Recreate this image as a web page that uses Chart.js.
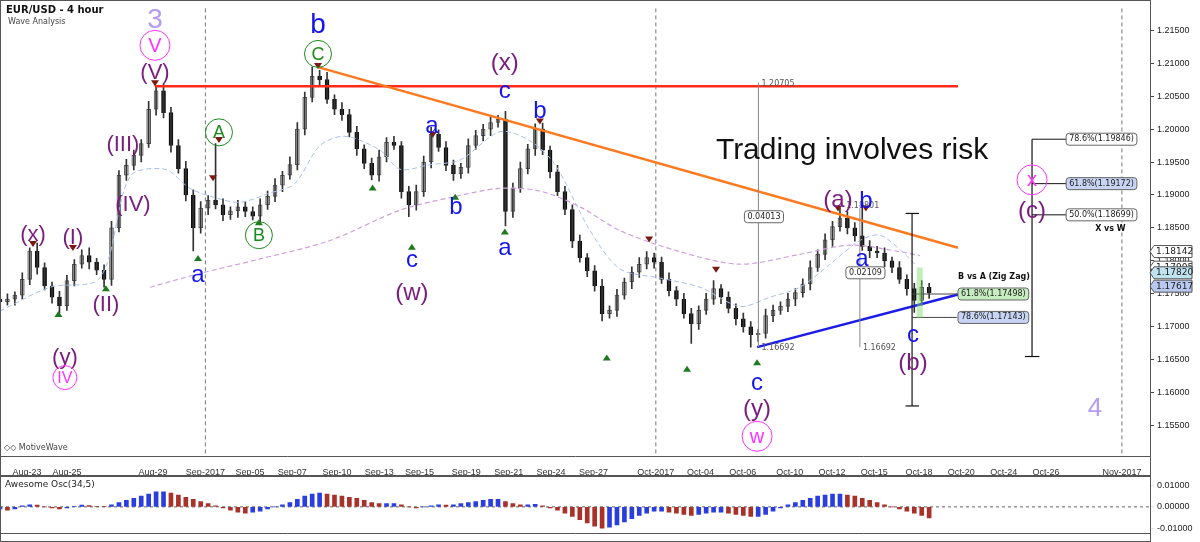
<!DOCTYPE html>
<html>
<head>
<meta charset="utf-8">
<script src="https://cdn.jsdelivr.net/npm/chart.js@4"></script>
<style>
  body { margin: 0; background: #fff; font-family: "DejaVu Sans", Arial, sans-serif; }
  #wrap { position: relative; width: 1200px; height: 542px; }
  canvas { position: absolute; left: 0; }
</style>
</head>
<body>
<div id="wrap">
  <canvas id="main" width="1200" height="476" style="top:0"></canvas>
  <canvas id="osc" width="1200" height="66" style="top:476px"></canvas>
</div>
<script>
// 4h-ish candles, 3 per trading day, x = trading days from Aug-23
const xStart = -1.21;
const closes = [11738,11742,11748,11772,11815,11790,11762,11745,11732,11770,
  11795,11808,11798,11786,11772,11850,11930,11945,11960,11978,
  12030,12058,12025,11975,11940,11900,11850,11880,11892,11885,
  11870,11876,11882,11875,11868,11885,11898,11915,11930,11946,
  12000,12048,12080,12075,12045,12030,12022,11995,11970,11948,
  11930,11958,11980,11975,11905,11885,11905,11950,11992,11972,
  11945,11932,11942,11975,11990,12000,12010,12015,11875,11910,
  11940,11970,12000,11968,11935,11905,11878,11830,11805,11785,
  11762,11720,11725,11748,11768,11783,11795,11805,11798,11772,
  11755,11742,11720,11705,11725,11742,11758,11745,11728,11712,
  11700,11688,11690,11717,11725,11731,11742,11752,11765,11790,
  11810,11832,11852,11865,11850,11838,11822,11815,11812,11800,
  11790,11772,11758,11740,11760,11752];
const wickUp = [6,8,5,10,5,12,7,6,9,8, 7,9,12,6,8,10,7,9,8,6,
  12,7,10,8,9,11,8,10,7,86, 9,6,10,8,7,9,8,10,6,12,
  10,8,14,9,11,7,10,8,9,6, 8,10,7,9,6,8,10,9,11,7,
  9,8,6,10,8,7,9,6,12,8, 10,7,8,9,6,10,8,7,9,6,
  8,10,7,9,6,8,10,9,7,8, 10,6,9,8,7,9,12,6,8,7,
  9,8,6,10,8,7,9,6,8,10, 7,9,8,15,10,8,55,9,7,8, 6,9,7,8,10,6];
const wickDn = [7,5,9,6,8,10,6,9,11,7, 8,6,10,7,12,9,6,8,7,10,
  6,9,8,10,7,9,35,8,10,6, 9,7,10,8,6,9,7,8,10,6,
  8,9,7,10,6,8,9,7,10,8, 7,9,8,6,10,18,8,7,9,6,
  8,10,7,9,6,8,10,7,22,9, 6,8,10,7,9,6,8,10,7,9,
  8,11,7,9,6,10,8,7,9,6, 8,10,7,30,9,6,8,10,7,9,
  8,19,10,7,9,6,8,10,7,9, 6,8,10,7,9,8,6,10,7,9, 8,6,10,18,7,9];
// Awesome oscillator, in 1e-3
const aoValues = [-1,-1.5,-1,0.5,1,0.8,0,-0.5,-1,-0.5,0.3,0.8,0.6,0.3,0.2,
  1,2,3,4,5,6,7,7, 6.5,5.5,4.5,3.5,2.5,1.5,
  0.5,-0.5,-1.5,-2.5,-3,-2.5,-2,-1, 0,1,2,3.5,5,6,6.5,6,5.5,
  5,4.5,4,3,2,1.5,1.5,1.5, 1,0,-0.5,0,0.5,1,0.8, 1,1.5,2,2.5,3,3.5,3.5,
  2.5,1.5,1,1,1.2, 0.5,-0.5,-1.5,-3,-4.5,-6,-7.5,-9,-10,
  -9.5,-8.5,-7,-5.5,-4,-3,-2, -2,-2.5,-3,-3.5,-4,-3.5,-3,
  -2.5,-2.5,-3,-3.5,-4,-4.5,-4.5, -3.5,-2,-0.5,1,2,3,4,5,5.5,6,
  6,5.5,5,4,3,2, 1,0,-1,-2,-3,-4,-5.2];

const tickLabels = ["Aug-23","Aug-25","Aug-29","Sep-2017","Sep-05","Sep-07","Sep-10","Sep-13","Sep-15","Sep-19","Sep-21","Sep-24","Sep-27","Oct-2017","Oct-04","Oct-06","Oct-10","Oct-12","Oct-15","Oct-18","Oct-20","Oct-24","Oct-26","Nov-2017"];
const tickPos = [0,1.79,5.65,8.0,10.0,11.9,13.9,15.8,17.6,19.7,21.6,23.5,25.4,28.2,30.2,32.1,34.2,36.1,38.0,40.0,41.9,43.8,45.7,49.1];
const priceTicks = [1.155,1.16,1.165,1.17,1.175,1.18,1.185,1.19,1.195,1.2,1.205,1.21,1.215];

const maFast = [[-1.21,1.1724],[1.03,1.1760],[3.27,1.1774],[4.62,1.1928],[6.19,1.1939],[7.31,1.1910],[8.43,1.1896],[9.55,1.1889],[10.9,1.1903],[12.0,1.1917],[13.14,1.1975],[14.26,1.1989],[15.83,1.1968],[16.73,1.1939],[18.07,1.1946],[19.42,1.1953],[21.21,1.1996],[22.56,1.1982],[23.68,1.1946],[25.25,1.1846],[26.59,1.1788],[28.39,1.1774],[30.18,1.1760],[31.97,1.1731],[33.32,1.1745],[34.66,1.1760],[36.01,1.1795],[37.35,1.1831],[38.25,1.1839],[39.15,1.1817],[39.82,1.1795]];
const maSlow = [[5.52,1.1760],[7.76,1.1781],[10.45,1.1803],[13.59,1.1831],[16.73,1.1877],[18.97,1.1896],[21.21,1.1910],[23.0,1.1906],[24.8,1.1882],[26.59,1.1846],[29.28,1.1814],[31.97,1.1795],[34.66,1.1810],[36.91,1.1824],[39.15,1.1814],[40.04,1.1808]];

// wave labels: text, x, price, color, size, circled
const PUR = "#7a1b7e", BLU = "#1414f0", GRN = "#1b8a1b", MAG = "#ff33ff", LAV = "#b59cf2";
const waveLabels = [
  ["3",5.74,1.2166,LAV,28,false],["V",5.74,1.2127,MAG,20,true],["(V)",5.74,1.2087,PUR,22,false],
  ["(III)",4.30,1.1978,PUR,22,false],["(IV)",4.75,1.1886,PUR,22,false],["(x)",0.27,1.1841,PUR,22,false],
  ["(I)",2.06,1.1837,PUR,22,false],["(II)",3.54,1.1734,PUR,22,false],["(y)",1.70,1.1655,PUR,22,false],
  ["IV",1.70,1.1623,MAG,16,true],["A",8.61,1.1995,GRN,18,true],["B",10.40,1.1839,GRN,18,true],
  ["a",7.67,1.1780,BLU,24,false],["b",13.05,1.2159,BLU,28,false],["C",13.05,1.2114,GRN,18,true],
  ["a",18.16,1.2006,BLU,24,false],["b",19.24,1.1882,BLU,24,false],["c",17.26,1.1803,BLU,24,false],
  ["(w)",17.26,1.1752,PUR,24,false],["(x)",21.43,1.2101,PUR,24,false],["c",21.43,1.2058,BLU,24,false],
  ["b",23.0,1.2028,BLU,24,false],["a",21.43,1.1821,BLU,24,false],["c",32.74,1.1616,BLU,24,false],
  ["(y)",32.74,1.1577,PUR,24,false],["w",32.74,1.1534,MAG,20,true],["(a)",36.37,1.1893,PUR,24,false],
  ["b",37.62,1.1892,BLU,24,false],["a",37.44,1.1804,BLU,24,false],["c",39.73,1.1688,BLU,24,false],
  ["(b)",39.73,1.1646,PUR,24,false],["x",45.07,1.1923,MAG,20,true],["(c)",45.07,1.1877,PUR,24,false],
  ["4",47.89,1.1577,LAV,26,false]
];
const topMarks = [[0.27,1.1820],[2.06,1.1814],[5.74,1.2064],[8.34,1.1920],[8.61,1.1978],[13.05,1.2090],[18.2,1.1986],[23.0,1.2006],[27.9,1.1827],[30.9,1.1781],[36.37,1.1874],[37.62,1.1874]];
const lowMarks = [[1.41,1.1721],[3.54,1.1760],[7.67,1.1806],[10.4,1.1860],[15.5,1.1913],[17.26,1.1823],[19.2,1.1899],[21.43,1.1846],[26.0,1.1655],[29.6,1.1638],[32.74,1.1648]];
const priceTags = [[1.18142,"#fff"],[1.17905,"#fff"],[1.17820,"#bfe4f0"],[1.17617,"#b8c8f0"]];

const candles = closes.map((c, i) => {
  const o = i ? closes[i - 1] : c + 4;
  return { x: xStart + i / 3, o: o / 1e4, c: c / 1e4,
    h: (Math.max(o, c) + wickUp[i]) / 1e4, l: (Math.min(o, c) - wickDn[i]) / 1e4 };
});
const xMin = -1.21, xMax = 50.36;

const xAxis = (showLabels) => ({
  type: "linear", min: xMin, max: xMax, offset: false,
  afterBuildTicks: (s) => { s.ticks = tickPos.map((v) => ({ value: v })); },
  afterFit: (s) => { s.height = showLabels ? 20 : 0; },
  ticks: { display: showLabels, autoSkip: false, maxRotation: 0, font: { size: 9 }, color: "#333",
    callback: (v) => tickLabels[tickPos.indexOf(v)] },
  grid: { display: false }, border: { color: "#555" }
});

const overlay = {
  id: "overlay",
  beforeDatasetsDraw(chart) {
    const { ctx, chartArea: a, scales: { x } } = chart;
    ctx.save();
    ctx.strokeStyle = "#777"; ctx.setLineDash([4, 3]); ctx.lineWidth = 1;
    ["Sep-2017", "Oct-2017", "Nov-2017"].forEach((t) => {
      const px = x.getPixelForValue(tickPos[tickLabels.indexOf(t)]);
      ctx.beginPath(); ctx.moveTo(px, a.top); ctx.lineTo(px, a.bottom); ctx.stroke();
    });
    ctx.restore();
  },
  afterDatasetsDraw(chart) {
    const { ctx, chartArea: a, scales: { x, y } } = chart;
    const X = (v) => x.getPixelForValue(v), Y = (v) => y.getPixelForValue(v);
    const line = (x1, y1, x2, y2, col, w) => {
      ctx.strokeStyle = col; ctx.lineWidth = w; ctx.beginPath();
      ctx.moveTo(X(x1), Y(y1)); ctx.lineTo(X(x2), Y(y2)); ctx.stroke();
    };
    const box = (s, px, py, fill) => {
      ctx.font = "8px DejaVu Sans"; const w = ctx.measureText(s).width + 6;
      ctx.fillStyle = fill; ctx.strokeStyle = "#666"; ctx.lineWidth = 1;
      ctx.beginPath(); ctx.roundRect(px, py - 6, w, 12, 3); ctx.fill(); ctx.stroke();
      ctx.fillStyle = "#222"; ctx.textAlign = "left"; ctx.textBaseline = "middle";
      ctx.fillText(s, px + 3, py);
    };
    ctx.save();
    // trend lines
    line(5.74, 1.2065, 41.75, 1.2065, "#ff2a1a", 2.5);
    line(13.05, 1.2094, 41.75, 1.1820, "#ff7a1f", 2.5);
    line(32.74, 1.16692, 41.75, 1.1749, "#1c1ce6", 2.5);
    // measurements
    line(32.8, 1.20705, 32.8, 1.16692, "#888", 1);
    line(37.35, 1.18801, 37.35, 1.16692, "#888", 1);
    line(39.69, 1.1872, 39.69, 1.1580, "#111", 1.2);
    line(39.4, 1.1872, 40.0, 1.1872, "#111", 1.2);
    line(39.4, 1.1580, 40.0, 1.1580, "#111", 1.2);
    line(45.07, 1.19846, 45.07, 1.1655, "#111", 1.2);
    line(44.75, 1.1655, 45.4, 1.1655, "#111", 1.2);
    [1.19846, 1.19172, 1.18699].forEach((p) => line(45.07, p, 46.6, p, "#111", 1));
    line(39.69, 1.17498, 41.7, 1.17498, "#444", 1);
    line(39.69, 1.17143, 41.7, 1.17143, "#444", 1);
    box("0.04013", X(32.8) - 14, Y(1.1867), "#fff");
    box("0.02109", X(37.35) - 14, Y(1.1782), "#fff");
    ctx.font = "8px DejaVu Sans"; ctx.fillStyle = "#555"; ctx.textAlign = "left";
    ctx.fillText("1.20705", X(32.8) + 3, Y(1.2068));
    ctx.fillText("1.16692", X(32.8) + 3, Y(1.1668));
    ctx.fillText("1.16692", X(37.35) + 3, Y(1.1668));
    ctx.fillText("1.18801", X(36.6) + 3, Y(1.1883));
    box("61.8%(1.17498)", X(41.75), Y(1.17498), "#c6ecc0");
    box("78.6%(1.17143)", X(41.75), Y(1.17143), "#c8d4f4");
    box("78.6%(1.19846)", X(46.6), Y(1.19846), "#fff");
    box("61.8%(1.19172)", X(46.6), Y(1.19172), "#c8d4f4");
    box("50.0%(1.18699)", X(46.6), Y(1.18699), "#fff");
    ctx.font = "bold 8px DejaVu Sans"; ctx.fillStyle = "#111"; ctx.textBaseline = "middle";
    ctx.fillText("B vs A (Zig Zag)", X(41.75), Y(1.1775));
    ctx.fillText("X vs W", X(47.9), Y(1.1848));
    // green box at last candles
    ctx.fillStyle = "rgba(120,220,100,0.45)";
    ctx.fillRect(X(39.9), Y(1.1790), 6, Y(1.1714) - Y(1.1790));
    // swing markers
    const tri = (xv, pv, up) => {
      const px = X(xv), py = Y(pv);
      ctx.fillStyle = up ? "#1f7a1f" : "#7a1a12"; ctx.beginPath();
      if (up) { ctx.moveTo(px - 4, py + 4); ctx.lineTo(px + 4, py + 4); ctx.lineTo(px, py - 2); }
      else { ctx.moveTo(px - 4, py - 4); ctx.lineTo(px + 4, py - 4); ctx.lineTo(px, py + 2); }
      ctx.fill();
    };
    topMarks.forEach((m) => tri(m[0], m[1] + 0.0004, false));
    lowMarks.forEach((m) => tri(m[0], m[1], true));
    // wave labels
    ctx.textAlign = "center"; ctx.textBaseline = "middle";
    waveLabels.forEach(([s, xv, pv, col, size, circ]) => {
      const px = X(xv), py = Y(pv);
      ctx.font = size + "px 'Liberation Sans', Arial, sans-serif"; ctx.fillStyle = col;
      ctx.fillText(s, px, py + 1);
      if (circ) {
        ctx.strokeStyle = col; ctx.lineWidth = 1; ctx.beginPath();
        ctx.arc(px, py, size * 0.75, 0, Math.PI * 2); ctx.stroke();
      }
    });
    ctx.font = "30px 'Liberation Sans', Arial, sans-serif"; ctx.fillStyle = "#111";
    ctx.fillText("Trading involves risk", X(37.0), Y(1.1967));
    ctx.textAlign = "left";
    ctx.font = "bold 10px DejaVu Sans"; ctx.fillText("EUR/USD - 4 hour", a.left + 6, 10);
    ctx.font = "8px DejaVu Sans"; ctx.fillStyle = "#444"; ctx.fillText("Wave Analysis", a.left + 8, 22);
    ctx.fillText("◇◇ MotiveWave", a.left + 4, a.bottom - 8);
    ctx.restore();
  },
  afterDraw(chart) {
    const { ctx, chartArea: a, scales: { y } } = chart;
    ctx.save();
    ctx.strokeStyle = "#555"; ctx.lineWidth = 1; ctx.strokeRect(0.5, 0.5, a.right, chart.height - 1);
    ctx.font = "9px DejaVu Sans"; ctx.textBaseline = "middle";
    priceTags.forEach(([p, fill]) => {
      const py = y.getPixelForValue(p), px = a.right + 4;
      ctx.fillStyle = fill; ctx.strokeStyle = "#555";
      ctx.beginPath(); ctx.moveTo(px - 4, py); ctx.lineTo(px, py - 6); ctx.lineTo(px + 38, py - 6);
      ctx.lineTo(px + 38, py + 6); ctx.lineTo(px, py + 6); ctx.closePath(); ctx.fill(); ctx.stroke();
      ctx.fillStyle = "#222"; ctx.fillText(p.toFixed(5), px + 2, py);
    });
    ctx.restore();
  }
};

new Chart(document.getElementById("main"), {
  type: "bar",
  data: {
    datasets: [
      { type: "line", data: maFast.map(([x, y]) => ({ x, y })), borderColor: "#a8bff0", borderWidth: 1, borderDash: [5, 3], pointRadius: 0, tension: 0.3 },
      { type: "line", data: maSlow.map(([x, y]) => ({ x, y })), borderColor: "#d2a0dc", borderWidth: 1.2, borderDash: [5, 3], pointRadius: 0, tension: 0.3 },
      { data: candles.map((k) => ({ x: k.x, y: [k.l, k.h] })), backgroundColor: "#333", barThickness: 1, grouped: false },
      { data: candles.map((k) => ({ x: k.x, y: [k.o, k.c] })), grouped: false, barThickness: 4,
        backgroundColor: candles.map((k) => (k.c >= k.o ? "#d4d4d4" : "#111")),
        borderColor: candles.map((k) => (k.c >= k.o ? "#555" : "#111")), borderWidth: 1, borderSkipped: false }
    ]
  },
  options: {
    responsive: false, animation: false, devicePixelRatio: 1,
    layout: { padding: { top: 5, left: 0, right: 2 } },
    plugins: { legend: { display: false }, tooltip: { enabled: false } },
    scales: {
      x: xAxis(true),
      y: {
        position: "right", min: 1.2150 - 450 / 6967, max: 1.2150 + 23 / 6967,
        afterBuildTicks: (s) => { s.ticks = priceTicks.map((v) => ({ value: v })); },
        afterFit: (s) => { s.width = 48; },
        ticks: { font: { size: 9 }, color: "#222", callback: (v) => v.toFixed(5) },
        grid: { drawOnChartArea: false, tickLength: 4, color: "#444" }, border: { color: "#555" }
      }
    }
  },
  plugins: [overlay]
});

const aoColors = aoValues.map((v, i) => (i && v < aoValues[i - 1] ? "#a8322a" : "#2a3ee0"));
new Chart(document.getElementById("osc"), {
  type: "bar",
  data: { datasets: [{ data: aoValues.map((v, i) => ({ x: xStart + i / 3, y: v / 1000 })), backgroundColor: aoColors, barThickness: 4 }] },
  options: {
    responsive: false, animation: false, devicePixelRatio: 1,
    layout: { padding: { top: 4, right: 2 } },
    plugins: { legend: { display: false }, tooltip: { enabled: false } },
    scales: {
      x: xAxis(false),
      y: {
        position: "right", min: -0.0125, max: 0.0105,
        afterBuildTicks: (s) => { s.ticks = [0.01, 0, -0.01].map((v) => ({ value: v })); },
        afterFit: (s) => { s.width = 48; },
        ticks: { font: { size: 9 }, color: "#222", callback: (v) => v.toFixed(5) },
        grid: { drawOnChartArea: false, tickLength: 4 }, border: { color: "#555" }
      }
    }
  },
  plugins: [{
    id: "oscDeco",
    beforeDatasetsDraw(chart) {
      const { ctx, chartArea: a, scales: { y } } = chart;
      ctx.save(); ctx.strokeStyle = "#666"; ctx.setLineDash([3, 3]);
      ctx.beginPath(); ctx.moveTo(a.left, y.getPixelForValue(0)); ctx.lineTo(a.right, y.getPixelForValue(0)); ctx.stroke();
      ctx.restore();
    },
    afterDraw(chart) {
      const { ctx, chartArea: a } = chart;
      ctx.save(); ctx.strokeStyle = "#555"; ctx.strokeRect(0.5, 0.5, a.right, chart.height - 1);
      ctx.font = "9px DejaVu Sans"; ctx.fillStyle = "#222"; ctx.textBaseline = "top";
      ctx.fillText("Awesome Osc(34,5)", 5, 4); ctx.restore();
    }
  }]
});
</script>
</body>
</html>
